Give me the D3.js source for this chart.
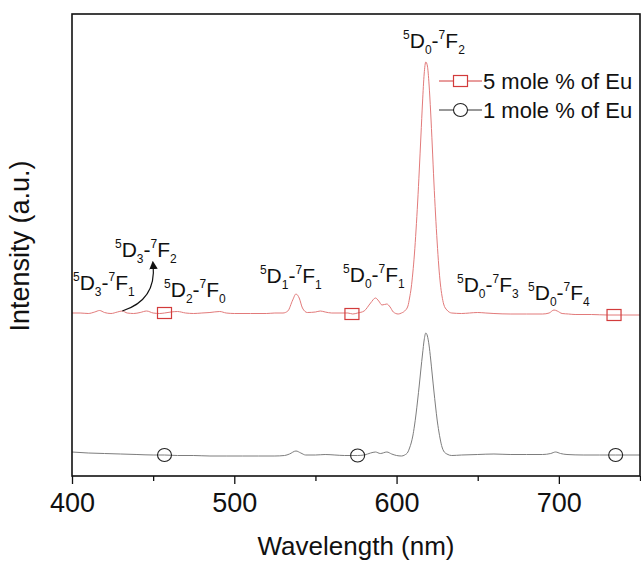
<!DOCTYPE html>
<html>
<head>
<meta charset="utf-8">
<script src="https://cdn.jsdelivr.net/npm/d3@7"></script>
<style>
  body { margin: 0; background: #fff; }
  svg { display: block; font-family: "Liberation Sans", Arial, sans-serif; }
</style>
</head>
<body>
<div id="chart"></div>
<script>
// 5 mole % Eu spectrum, [wavelength nm, intensity a.u.] (offset upward)
const spec5 = [
  [400, 163], [405, 163], [410, 162.5], [414, 164], [417, 165.5], [420, 163.5],
  [424, 162.5], [428, 164], [431, 165], [434, 163], [438, 162.5], [442, 163.5],
  [446, 165], [450, 163], [454, 162.5], [457, 163], [461, 164], [465, 164.5],
  [470, 163], [475, 162.5], [480, 163], [485, 163.5], [491, 164.5], [495, 163],
  [500, 162.5], [510, 162.5], [520, 162.5], [525, 163], [530, 163], [533, 165],
  [536, 176], [538, 182], [540, 178], [542, 168], [545, 163.5], [550, 164],
  [553, 165], [556, 164], [560, 163], [570, 163], [573, 162], [576, 163],
  [580, 165], [584, 173], [587, 178], [589, 175], [591, 171], [594, 172],
  [596, 169], [598, 164], [601, 162], [603, 163], [605, 165], [607, 170],
  [608, 178], [609, 188], [610, 203], [611, 222], [612, 246], [613, 274],
  [614, 306], [615, 340], [616, 374], [617, 402], [618, 414], [619, 410],
  [620, 392], [621, 364], [622, 330], [623, 294], [624, 262], [625, 234],
  [626, 210], [627, 192], [628, 180], [629, 172], [631, 166], [634, 163],
  [640, 162.5], [645, 163], [650, 163.5], [655, 163], [660, 162.5], [670, 162],
  [680, 162], [690, 162], [694, 163], [697, 166], [699, 165], [702, 162.5],
  [706, 162], [710, 161.5], [720, 161.5], [730, 161], [740, 161], [750, 161]
];

// 1 mole % Eu spectrum
const spec1 = [
  [400, 24], [410, 23], [420, 22.5], [430, 22], [440, 21.5], [450, 21],
  [457, 21], [465, 20.5], [475, 20.5], [485, 20], [495, 20], [505, 20],
  [515, 20], [525, 20], [531, 20.5], [534, 22], [538, 25], [541, 23],
  [544, 21], [550, 21], [556, 21.5], [562, 21], [568, 20.5], [576, 20.5],
  [580, 21], [584, 23], [587, 24], [590, 22.5], [594, 24], [597, 22],
  [600, 20.5], [603, 20], [605, 21], [607, 24], [608, 28], [609, 33],
  [610, 40], [611, 50], [612, 62], [613, 76], [614, 91], [615, 107],
  [616, 122], [617, 136], [618, 143], [619, 140], [620, 131], [621, 117],
  [622, 101], [623, 85], [624, 70], [625, 56], [626, 45], [627, 36],
  [628, 29], [629, 25], [631, 22], [634, 20.5], [640, 21], [650, 21.5],
  [660, 22], [670, 21.5], [680, 21.5], [690, 21.5], [695, 22.5], [698, 24],
  [701, 22.5], [705, 21.5], [715, 21], [725, 21], [735, 21], [750, 21]
];

const markers5 = [[457, 163], [572.5, 162], [734, 161]];
const markers1 = [[457, 21], [576, 20.5], [735, 21]];

const majorTicks = [400, 500, 600, 700];
const minorTicks = [450, 550, 650, 750];

// transition labels: [upper sub, lower sub, wavelength at left edge, intensity at baseline]
const transitions = [
  ["3", "1", 400.6, 186],
  ["3", "2", 426.5, 219],
  ["2", "0", 456.7, 179],
  ["1", "1", 515.8, 193],
  ["0", "1", 567, 194],
  ["0", "2", 604, 428],
  ["0", "3", 637.2, 184],
  ["0", "4", 681, 176]
];

// curved arrow from the 5D3-7F2 bump up to its label
const arrowPts = [[431, 165], [452, 176], [450, 211]];

const legendItems = ["5 mole % of Eu", "1 mole % of Eu"];

const width = 641;
const height = 562;
const margin = { top: 14, right: 1, bottom: 86, left: 72 };

const x = d3.scaleLinear().domain([400, 750]).range([margin.left, width - margin.right]);
const y = d3.scaleLinear().domain([0, 462]).range([height - margin.bottom, margin.top]);

const red = "#d23b3b";
const redLine = "#e27a7a";
const darkLine = "#7d7d7d";

const svg = d3.select("#chart")
  .append("svg")
  .attr("width", width)
  .attr("height", height);

svg.append("defs")
  .append("marker")
  .attr("id", "head")
  .attr("viewBox", "0 0 10 10")
  .attr("refX", 5)
  .attr("refY", 5)
  .attr("markerWidth", 7)
  .attr("markerHeight", 7)
  .attr("orient", "auto")
  .append("path")
  .attr("d", "M0,0 L10,5 L0,10 Z")
  .attr("fill", "#111");

const line = d3.line()
  .x((d) => x(d[0]))
  .y((d) => y(d[1]))
  .curve(d3.curveMonotoneX);

svg.append("path")
  .datum(spec5)
  .attr("fill", "none")
  .attr("stroke", redLine)
  .attr("stroke-width", 1)
  .attr("d", line);

svg.append("path")
  .datum(spec1)
  .attr("fill", "none")
  .attr("stroke", darkLine)
  .attr("stroke-width", 1)
  .attr("d", line);

svg.append("g")
  .selectAll("rect")
  .data(markers5)
  .join("rect")
  .attr("x", (d) => x(d[0]) - 7)
  .attr("y", (d) => y(d[1]) - 5.5)
  .attr("width", 14)
  .attr("height", 11)
  .attr("fill", "none")
  .attr("stroke", red)
  .attr("stroke-width", 1.2);

svg.append("g")
  .selectAll("ellipse")
  .data(markers1)
  .join("ellipse")
  .attr("cx", (d) => x(d[0]))
  .attr("cy", (d) => y(d[1]))
  .attr("rx", 7)
  .attr("ry", 6.5)
  .attr("fill", "none")
  .attr("stroke", "#222")
  .attr("stroke-width", 1.1);

// transition labels
const labels = svg.append("g")
  .attr("font-size", 21)
  .attr("fill", "#111");

transitions.forEach((t) => {
  const text = labels.append("text")
    .attr("x", x(t[2]))
    .attr("y", y(t[3]));
  text.append("tspan").attr("font-size", 12).attr("dy", -9).text("5");
  text.append("tspan").attr("dy", 9).text("D");
  text.append("tspan").attr("font-size", 12).attr("dy", 6).text(t[0]);
  text.append("tspan").attr("dy", -6).text("-");
  text.append("tspan").attr("font-size", 12).attr("dy", -9).text("7");
  text.append("tspan").attr("dy", 9).text("F");
  text.append("tspan").attr("font-size", 12).attr("dy", 6).text(t[1]);
});

svg.append("path")
  .attr("d", `M${x(arrowPts[0][0])},${y(arrowPts[0][1])} Q${x(arrowPts[1][0])},${y(arrowPts[1][1])} ${x(arrowPts[2][0])},${y(arrowPts[2][1])}`)
  .attr("fill", "none")
  .attr("stroke", "#111")
  .attr("stroke-width", 1.2)
  .attr("marker-end", "url(#head)");

// axes
const axisY = height - margin.bottom;

const major = svg.append("g")
  .attr("transform", `translate(0,${axisY})`)
  .call(d3.axisBottom(x).tickValues(majorTicks).tickSize(8).tickPadding(9).tickFormat(d3.format("d")));
major.select(".domain").remove();
major.selectAll("line").attr("stroke", "#111").attr("stroke-width", 1.3);
major.selectAll("text")
  .attr("font-size", 27)
  .attr("fill", "#111")
  .attr("font-family", "Liberation Sans, Arial, sans-serif");

const minor = svg.append("g")
  .attr("transform", `translate(0,${axisY})`)
  .call(d3.axisBottom(x).tickValues(minorTicks).tickSize(5).tickFormat(""));
minor.select(".domain").remove();
minor.selectAll("line").attr("stroke", "#111").attr("stroke-width", 1.3);

svg.append("rect")
  .attr("x", margin.left)
  .attr("y", margin.top)
  .attr("width", width - margin.right - margin.left)
  .attr("height", axisY - margin.top)
  .attr("fill", "none")
  .attr("stroke", "#111")
  .attr("stroke-width", 1.6);

svg.append("text")
  .attr("x", (margin.left + width - margin.right) / 2)
  .attr("y", 555)
  .attr("text-anchor", "middle")
  .attr("font-size", 26)
  .attr("fill", "#111")
  .text("Wavelength (nm)");

svg.append("text")
  .attr("transform", `translate(29,${246}) rotate(-90)`)
  .attr("text-anchor", "middle")
  .attr("font-size", 27)
  .attr("fill", "#111")
  .text("Intensity (a.u.)");

// legend
const legend = svg.append("g").attr("transform", "translate(439,81)");
legendItems.forEach((label, i) => {
  const g = legend.append("g").attr("transform", `translate(0,${i * 29})`);
  g.append("line")
    .attr("x1", 0).attr("x2", 43)
    .attr("stroke", i === 0 ? red : "#333")
    .attr("stroke-width", 1);
  if (i === 0) {
    g.append("rect")
      .attr("x", 14.5).attr("y", -5.5)
      .attr("width", 14).attr("height", 11)
      .attr("fill", "#fff")
      .attr("stroke", red)
      .attr("stroke-width", 1.2);
  } else {
    g.append("ellipse")
      .attr("cx", 21.5).attr("cy", 0)
      .attr("rx", 7).attr("ry", 6.5)
      .attr("fill", "#fff")
      .attr("stroke", "#222")
      .attr("stroke-width", 1.1);
  }
  g.append("text")
    .attr("x", 44)
    .attr("y", 8)
    .attr("font-size", 22)
    .attr("fill", "#111")
    .text(label);
});
</script>
</body>
</html>
